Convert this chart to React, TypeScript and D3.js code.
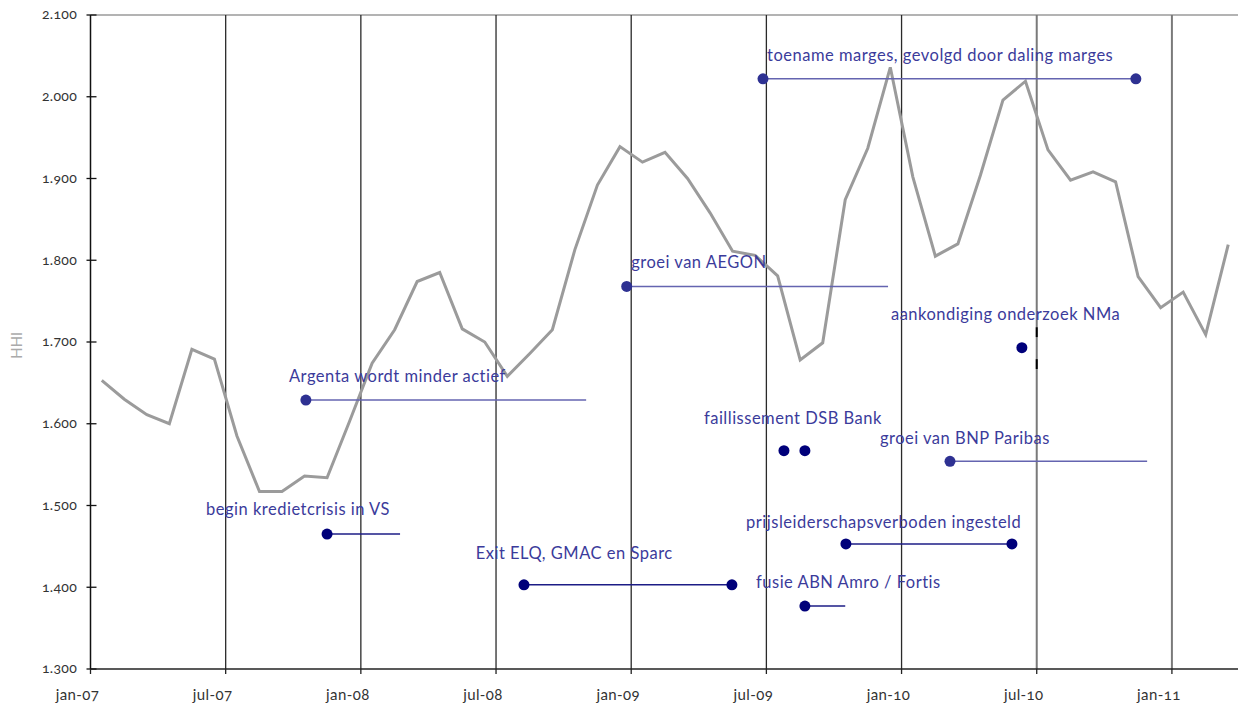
import React from "react";
import * as d3 from "d3";

// Monthly HHI, jan-07 .. mar-11
const hhiValues: number[] = [
  1653, 1630, 1611, 1600, 1691, 1679, 1585, 1517, 1517, 1536, 1534, 1603,
  1674, 1715, 1774, 1785, 1716, 1700, 1658, 1686, 1715, 1813, 1892, 1939,
  1920, 1932, 1900, 1858, 1811, 1806, 1781, 1678, 1699, 1874, 1937, 2036,
  1902, 1805, 1820, 1904, 1996, 2019, 1935, 1898, 1908, 1896, 1780, 1742,
  1761, 1709, 1819,
];

const xTickMonths: number[] = [0, 6, 12, 18, 24, 30, 36, 42, 48];
const xTickLabels: string[] = ["jan-07", "jul-07", "jan-08", "jul-08", "jan-09", "jul-09", "jan-10", "jul-10", "jan-11"];
const yTicks: number[] = [1300, 1400, 1500, 1600, 1700, 1800, 1900, 2000, 2100];

// Annotations (months since jan-07, HHI value)
const annLabels: string[] = [
  "toename marges, gevolgd door daling marges",
  "groei van AEGON",
  "Argenta wordt minder actief",
  "aankondiging onderzoek NMa",
  "faillissement DSB Bank",
  "groei van BNP Paribas",
  "begin kredietcrisis in VS",
  "prijsleiderschapsverboden ingesteld",
  "Exit ELQ, GMAC en Sparc",
  "fusie ABN Amro / Fortis",
];
const annStart: number[] = [29.85, 23.8, 9.56, 41.34, 30.78, 38.15, 10.5, 33.53, 19.24, 31.71];
const annEnd: number[] = [46.4, 35.4, 22.0, 41.34, 31.71, 46.9, 13.74, 40.9, 28.47, 33.5];
const annValue: number[] = [2022, 1768, 1629, 1693, 1567, 1554, 1465, 1453, 1403, 1377];
const annKind: string[] = ["both", "start", "start", "dot", "twoDots", "start", "start", "both", "both", "start"];
const annDark: boolean[] = [false, false, false, true, true, false, true, true, true, true];
const annTextMonth: number[] = [30.03, 24.0, 8.81, 35.53, 27.23, 35.04, 5.13, 29.1, 17.1, 29.54];
const annTextValue: number[] = [2044, 1790, 1651, 1727, 1600, 1575, 1488, 1472, 1435, 1399];

const W = 1238;
const H = 707;

export default function App() {
  const x = d3.scaleLinear().domain([0, 51]).range([90.5, 1239.5]);
  const y = d3.scaleLinear().domain([1300, 2100]).range([669, 15]);
  const line = d3
    .line<number>()
    .x((_, i) => x(i + 0.5))
    .y((d) => y(d));

  const font = "Lato, 'Open Sans', sans-serif";
  const textColor = "#3b3b9b";

  return (
    <svg
      width={W}
      height={H}
      style={{ position: "fixed", left: 0, top: 0, background: "#fff" }}
      fontFamily={font}
    >
      {/* top border */}
      <line x1={x(0)} x2={W} y1={y(2100)} y2={y(2100)} stroke="#9a9a9a" strokeWidth={1.5} />
      {/* gridlines */}
      {xTickMonths.slice(1).map((m) => (
        <line
          key={"g" + m}
          x1={x(m)}
          x2={x(m)}
          y1={y(2100)}
          y2={y(1300)}
          stroke={m >= 42 ? "#7a7a7a" : "#2a2a2a"}
          strokeWidth={m >= 42 ? 2 : 1.3}
        />
      ))}
      {/* black marks on jul-10 */}
      <line x1={x(42)} x2={x(42)} y1={y(1718)} y2={y(1706)} stroke="#000" strokeWidth={2} />
      <line x1={x(42)} x2={x(42)} y1={y(1679)} y2={y(1667)} stroke="#000" strokeWidth={2} />

      {/* axes */}
      <line x1={x(0)} x2={x(0)} y1={y(2100)} y2={y(1300)} stroke="#111" strokeWidth={1.5} />
      <line x1={x(0)} x2={W} y1={y(1300)} y2={y(1300)} stroke="#222" strokeWidth={1.5} />
      {yTicks.map((v) => (
        <g key={"y" + v}>
          <line x1={x(0) - 4} x2={x(0) + 6} y1={y(v)} y2={y(v)} stroke="#111" strokeWidth={1.3} />
          <text
            x={77}
            y={y(v)}
            dy="0.32em"
            textAnchor="end"
            fontSize={14}
            letterSpacing={0.3}
            fill="#333"
            style={{ fontVariantNumeric: "oldstyle-nums" }}
          >
            {d3.format(",")(v).replace(",", ".")}
          </text>
        </g>
      ))}
      {xTickMonths.map((m, i) => (
        <g key={"x" + m}>
          <line x1={x(m)} x2={x(m)} y1={y(1300)} y2={y(1300) + 5} stroke="#222" strokeWidth={1.3} />
          <text
            x={x(m) - 13}
            y={700}
            textAnchor="middle"
            fontSize={15}
            letterSpacing={0.4}
            fill="#333"
            style={{ fontVariantNumeric: "oldstyle-nums" }}
          >
            {xTickLabels[i]}
          </text>
        </g>
      ))}
      <text
        transform={`translate(22,${y(1696)}) rotate(-90)`}
        textAnchor="middle"
        fontSize={15}
        fill="#aaaaaa"
      >
        HHI
      </text>

      {/* data line */}
      <path d={line(hhiValues) || ""} fill="none" stroke="#9b9b9b" strokeWidth={3} strokeLinejoin="miter" />

      {/* annotations */}
      {annLabels.map((lab, i) => {
        const dotColor = annDark[i] ? "#00007a" : "#2e3192";
        const lineColor = annDark[i] ? "#1c1c86" : "#6464b0";
        const ys = y(annValue[i]);
        const x0 = x(annStart[i]);
        const x1 = x(annEnd[i]);
        const kind = annKind[i];
        return (
          <g key={"a" + i}>
            {(kind === "both" || kind === "start") && (
              <line x1={x0} x2={x1} y1={ys} y2={ys} stroke={lineColor} strokeWidth={1.5} />
            )}
            <circle cx={x0} cy={ys} r={5.5} fill={dotColor} />
            {(kind === "both" || kind === "twoDots") && <circle cx={x1} cy={ys} r={5.5} fill={dotColor} />}
            <text
              x={x(annTextMonth[i])}
              y={y(annTextValue[i])}
              fontSize={16.5}
              letterSpacing={0.5}
              fill={textColor}
            >
              {lab}
            </text>
          </g>
        );
      })}
    </svg>
  );
}
